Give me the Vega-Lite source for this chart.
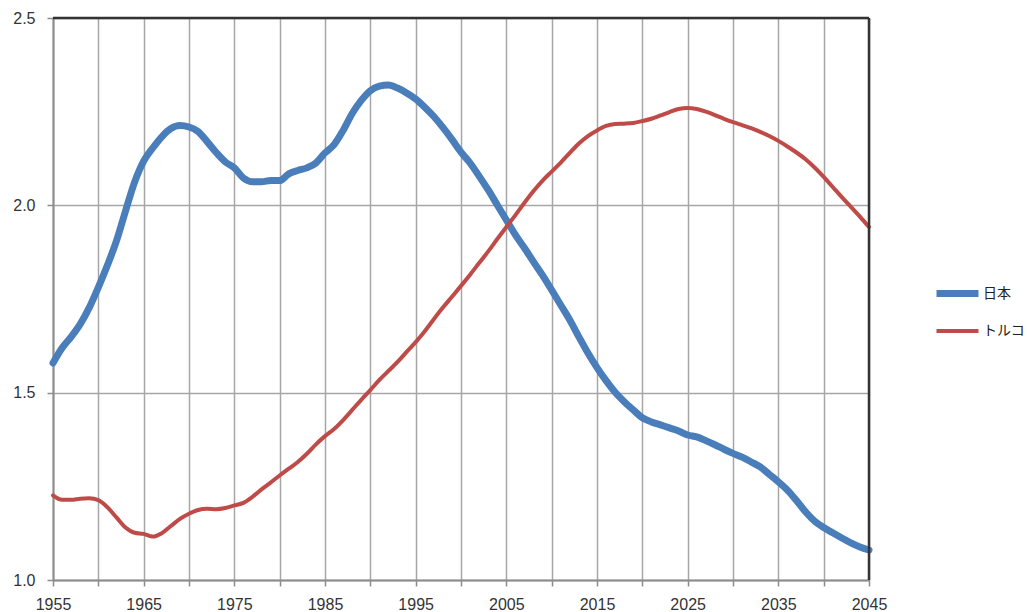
{
  "$schema": "https://vega.github.io/schema/vega-lite/v6.json",
  "autosize": {"type": "none"},
  "padding": {"left": 53, "top": 18, "right": 158, "bottom": 32},
  "width": 816,
  "height": 562,
  "background": "white",
  "config": {"view": {"stroke": null}},
  "datasets": {
    "tfr": [
      {"year":1955,"country":"日本","value":1.579},{"year":1956,"country":"日本","value":1.619},{"year":1957,"country":"日本","value":1.649},{"year":1958,"country":"日本","value":1.683},{"year":1959,"country":"日本","value":1.727},
      {"year":1960,"country":"日本","value":1.781},{"year":1961,"country":"日本","value":1.840},{"year":1962,"country":"日本","value":1.905},{"year":1963,"country":"日本","value":1.985},{"year":1964,"country":"日本","value":2.062},
      {"year":1965,"country":"日本","value":2.118},{"year":1966,"country":"日本","value":2.153},{"year":1967,"country":"日本","value":2.183},{"year":1968,"country":"日本","value":2.205},{"year":1969,"country":"日本","value":2.213},
      {"year":1970,"country":"日本","value":2.209},{"year":1971,"country":"日本","value":2.197},{"year":1972,"country":"日本","value":2.170},{"year":1973,"country":"日本","value":2.141},{"year":1974,"country":"日本","value":2.116},
      {"year":1975,"country":"日本","value":2.100},{"year":1976,"country":"日本","value":2.073},{"year":1977,"country":"日本","value":2.063},{"year":1978,"country":"日本","value":2.063},{"year":1979,"country":"日本","value":2.066},
      {"year":1980,"country":"日本","value":2.066},{"year":1981,"country":"日本","value":2.084},{"year":1982,"country":"日本","value":2.093},{"year":1983,"country":"日本","value":2.100},{"year":1984,"country":"日本","value":2.113},
      {"year":1985,"country":"日本","value":2.140},{"year":1986,"country":"日本","value":2.162},{"year":1987,"country":"日本","value":2.200},{"year":1988,"country":"日本","value":2.245},{"year":1989,"country":"日本","value":2.280},
      {"year":1990,"country":"日本","value":2.306},{"year":1991,"country":"日本","value":2.318},{"year":1992,"country":"日本","value":2.321},{"year":1993,"country":"日本","value":2.313},{"year":1994,"country":"日本","value":2.300},
      {"year":1995,"country":"日本","value":2.284},{"year":1996,"country":"日本","value":2.262},{"year":1997,"country":"日本","value":2.237},{"year":1998,"country":"日本","value":2.208},{"year":1999,"country":"日本","value":2.176},
      {"year":2000,"country":"日本","value":2.142},{"year":2001,"country":"日本","value":2.113},{"year":2002,"country":"日本","value":2.078},{"year":2003,"country":"日本","value":2.041},{"year":2004,"country":"日本","value":2.001},
      {"year":2005,"country":"日本","value":1.961},{"year":2006,"country":"日本","value":1.921},{"year":2007,"country":"日本","value":1.886},{"year":2008,"country":"日本","value":1.849},{"year":2009,"country":"日本","value":1.813},
      {"year":2010,"country":"日本","value":1.774},{"year":2011,"country":"日本","value":1.734},{"year":2012,"country":"日本","value":1.694},{"year":2013,"country":"日本","value":1.649},{"year":2014,"country":"日本","value":1.606},
      {"year":2015,"country":"日本","value":1.567},{"year":2016,"country":"日本","value":1.532},{"year":2017,"country":"日本","value":1.501},{"year":2018,"country":"日本","value":1.476},{"year":2019,"country":"日本","value":1.454},
      {"year":2020,"country":"日本","value":1.433},{"year":2021,"country":"日本","value":1.422},{"year":2022,"country":"日本","value":1.414},{"year":2023,"country":"日本","value":1.406},{"year":2024,"country":"日本","value":1.398},
      {"year":2025,"country":"日本","value":1.387},{"year":2026,"country":"日本","value":1.382},{"year":2027,"country":"日本","value":1.372},{"year":2028,"country":"日本","value":1.361},{"year":2029,"country":"日本","value":1.349},
      {"year":2030,"country":"日本","value":1.338},{"year":2031,"country":"日本","value":1.328},{"year":2032,"country":"日本","value":1.315},{"year":2033,"country":"日本","value":1.302},{"year":2034,"country":"日本","value":1.282},
      {"year":2035,"country":"日本","value":1.262},{"year":2036,"country":"日本","value":1.240},{"year":2037,"country":"日本","value":1.212},{"year":2038,"country":"日本","value":1.182},{"year":2039,"country":"日本","value":1.157},
      {"year":2040,"country":"日本","value":1.140},{"year":2041,"country":"日本","value":1.126},{"year":2042,"country":"日本","value":1.112},{"year":2043,"country":"日本","value":1.099},{"year":2044,"country":"日本","value":1.088},
      {"year":2045,"country":"日本","value":1.080},
      {"year":1955,"country":"トルコ","value":1.226},{"year":1956,"country":"トルコ","value":1.214},{"year":1957,"country":"トルコ","value":1.214},{"year":1958,"country":"トルコ","value":1.217},{"year":1959,"country":"トルコ","value":1.218},
      {"year":1960,"country":"トルコ","value":1.213},{"year":1961,"country":"トルコ","value":1.194},{"year":1962,"country":"トルコ","value":1.167},{"year":1963,"country":"トルコ","value":1.140},{"year":1964,"country":"トルコ","value":1.126},
      {"year":1965,"country":"トルコ","value":1.123},{"year":1966,"country":"トルコ","value":1.116},{"year":1967,"country":"トルコ","value":1.125},{"year":1968,"country":"トルコ","value":1.144},{"year":1969,"country":"トルコ","value":1.163},
      {"year":1970,"country":"トルコ","value":1.177},{"year":1971,"country":"トルコ","value":1.187},{"year":1972,"country":"トルコ","value":1.190},{"year":1973,"country":"トルコ","value":1.189},{"year":1974,"country":"トルコ","value":1.192},
      {"year":1975,"country":"トルコ","value":1.199},{"year":1976,"country":"トルコ","value":1.206},{"year":1977,"country":"トルコ","value":1.222},{"year":1978,"country":"トルコ","value":1.242},{"year":1979,"country":"トルコ","value":1.260},
      {"year":1980,"country":"トルコ","value":1.279},{"year":1981,"country":"トルコ","value":1.297},{"year":1982,"country":"トルコ","value":1.315},{"year":1983,"country":"トルコ","value":1.337},{"year":1984,"country":"トルコ","value":1.362},
      {"year":1985,"country":"トルコ","value":1.384},{"year":1986,"country":"トルコ","value":1.403},{"year":1987,"country":"トルコ","value":1.427},{"year":1988,"country":"トルコ","value":1.454},{"year":1989,"country":"トルコ","value":1.481},
      {"year":1990,"country":"トルコ","value":1.507},{"year":1991,"country":"トルコ","value":1.534},{"year":1992,"country":"トルコ","value":1.558},{"year":1993,"country":"トルコ","value":1.582},{"year":1994,"country":"トルコ","value":1.609},
      {"year":1995,"country":"トルコ","value":1.635},{"year":1996,"country":"トルコ","value":1.664},{"year":1997,"country":"トルコ","value":1.696},{"year":1998,"country":"トルコ","value":1.727},{"year":1999,"country":"トルコ","value":1.756},
      {"year":2000,"country":"トルコ","value":1.785},{"year":2001,"country":"トルコ","value":1.815},{"year":2002,"country":"トルコ","value":1.846},{"year":2003,"country":"トルコ","value":1.877},{"year":2004,"country":"トルコ","value":1.910},
      {"year":2005,"country":"トルコ","value":1.942},{"year":2006,"country":"トルコ","value":1.974},{"year":2007,"country":"トルコ","value":2.007},{"year":2008,"country":"トルコ","value":2.038},{"year":2009,"country":"トルコ","value":2.066},
      {"year":2010,"country":"トルコ","value":2.090},{"year":2011,"country":"トルコ","value":2.114},{"year":2012,"country":"トルコ","value":2.140},{"year":2013,"country":"トルコ","value":2.165},{"year":2014,"country":"トルコ","value":2.185},
      {"year":2015,"country":"トルコ","value":2.200},{"year":2016,"country":"トルコ","value":2.212},{"year":2017,"country":"トルコ","value":2.217},{"year":2018,"country":"トルコ","value":2.218},{"year":2019,"country":"トルコ","value":2.220},
      {"year":2020,"country":"トルコ","value":2.225},{"year":2021,"country":"トルコ","value":2.231},{"year":2022,"country":"トルコ","value":2.240},{"year":2023,"country":"トルコ","value":2.249},{"year":2024,"country":"トルコ","value":2.257},
      {"year":2025,"country":"トルコ","value":2.260},{"year":2026,"country":"トルコ","value":2.257},{"year":2027,"country":"トルコ","value":2.250},{"year":2028,"country":"トルコ","value":2.241},{"year":2029,"country":"トルコ","value":2.231},
      {"year":2030,"country":"トルコ","value":2.222},{"year":2031,"country":"トルコ","value":2.214},{"year":2032,"country":"トルコ","value":2.206},{"year":2033,"country":"トルコ","value":2.196},{"year":2034,"country":"トルコ","value":2.185},
      {"year":2035,"country":"トルコ","value":2.172},{"year":2036,"country":"トルコ","value":2.157},{"year":2037,"country":"トルコ","value":2.141},{"year":2038,"country":"トルコ","value":2.123},{"year":2039,"country":"トルコ","value":2.101},
      {"year":2040,"country":"トルコ","value":2.076},{"year":2041,"country":"トルコ","value":2.049},{"year":2042,"country":"トルコ","value":2.022},{"year":2043,"country":"トルコ","value":1.996},{"year":2044,"country":"トルコ","value":1.970},
      {"year":2045,"country":"トルコ","value":1.942}
    ]
  },
  "layer": [
    {
      "data": {"name": "tfr"},
      "mark": {"type": "line", "interpolate": "monotone", "strokeCap": "round", "strokeJoin": "round"},
      "encoding": {
        "x": {
          "field": "year", "type": "quantitative",
          "scale": {"domain": [1955, 2045], "nice": false, "zero": false},
          "axis": {
            "title": null,
            "values": [1955,1960,1965,1970,1975,1980,1985,1990,1995,2000,2005,2010,2015,2020,2025,2030,2035,2040,2045],
            "labelExpr": "(datum.value - 1955) % 10 == 0 ? datum.value : ''",
            "grid": true, "gridColor": "#a6a6a6", "gridWidth": 1.5,
            "domainColor": "#8c8c8c", "domainWidth": 2,
            "tickColor": "#8c8c8c", "tickSize": 6, "tickWidth": 1.5,
            "labelFont": "Liberation Sans", "labelFontSize": 16, "labelColor": "#333333",
            "labelPadding": 10, "labelFlush": false, "labelOverlap": false
          }
        },
        "y": {
          "field": "value", "type": "quantitative",
          "scale": {"domain": [1, 2.5], "nice": false, "zero": false},
          "axis": {
            "title": null,
            "values": [1, 1.5, 2, 2.5],
            "format": ".1f",
            "grid": true, "gridColor": "#a6a6a6", "gridWidth": 1.5,
            "domainColor": "#8c8c8c", "domainWidth": 2,
            "tickColor": "#8c8c8c", "tickSize": 6, "tickWidth": 1.5,
            "labelFont": "Liberation Sans", "labelFontSize": 16, "labelColor": "#333333",
            "labelPadding": 12
          }
        },
        "color": {
          "field": "country", "type": "nominal",
          "scale": {"domain": ["日本", "トルコ"], "range": ["#4a7ebb", "#be4b48"]},
          "legend": {
            "title": null, "orient": "none", "legendX": 880, "legendY": 251,
            "padding": 0, "symbolType": "stroke", "symbolSize": 1764,
            "labelFont": "Noto Sans CJK JP", "labelFontSize": 14, "labelColor": "#222222",
            "labelOffset": 1, "rowPadding": 0
          }
        },
        "strokeWidth": {
          "field": "country", "type": "nominal",
          "scale": {"domain": ["日本", "トルコ"], "range": [7, 4]},
          "legend": {
            "title": null, "orient": "none", "legendX": 880, "legendY": 251,
            "padding": 0, "symbolType": "stroke", "symbolSize": 1764,
            "labelFont": "Noto Sans CJK JP", "labelFontSize": 14, "labelColor": "#222222",
            "labelOffset": 1, "rowPadding": 0
          }
        }
      }
    },
    {
      "data": {"values": [{}]},
      "mark": {"type": "rule", "color": "#333333", "strokeWidth": 2.5},
      "encoding": {"x": {"datum": 2045, "type": "quantitative"}}
    },
    {
      "data": {"values": [{}]},
      "mark": {"type": "rule", "color": "#333333", "strokeWidth": 2.5},
      "encoding": {"y": {"datum": 2.5, "type": "quantitative"}}
    }
  ]
}
